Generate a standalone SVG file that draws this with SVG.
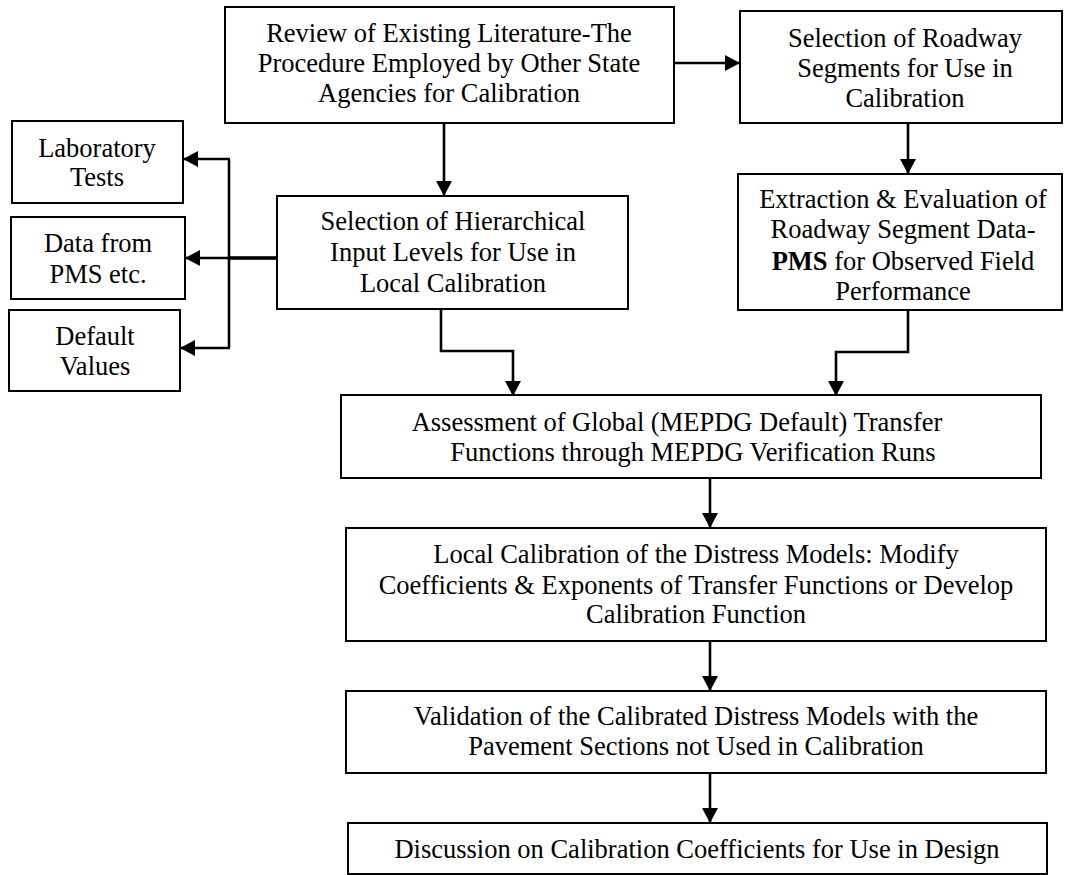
<svg xmlns="http://www.w3.org/2000/svg" width="1081" height="875" viewBox="0 0 1081 875">
<style>
.box{fill:#fff;stroke:#000;stroke-width:2}
.t{font-family:"Liberation Serif","Times New Roman",serif;font-size:26.5px;fill:#000;text-anchor:middle}
.c{fill:none;stroke:#000;stroke-width:2.6}
</style>
<defs>
<marker id="ah" viewBox="0 0 15 16" refX="15" refY="8" markerWidth="15" markerHeight="16" markerUnits="userSpaceOnUse" orient="auto">
<path d="M0,0 L15,8 L0,16 z" fill="#000"/>
</marker>
</defs>
<rect width="1081" height="875" fill="#fff"/>
<g id="connectors">
<path class="c" d="M674,63 H740" marker-end="url(#ah)"/>
<path class="c" d="M444,123 V196" marker-end="url(#ah)"/>
<path class="c" d="M908,123 V174" marker-end="url(#ah)"/>
<path class="c" d="M277,258 H185" marker-end="url(#ah)"/>
<path d="M229,258 H277" stroke="#000" stroke-width="3.6" fill="none"/>
<path class="c" d="M229,159 V348"/>
<path class="c" d="M230,159 H183" marker-end="url(#ah)"/>
<path class="c" d="M230,348 H180" marker-end="url(#ah)"/>
<path class="c" d="M441,309 V351 H513 V396" marker-end="url(#ah)"/>
<path class="c" d="M908,310 V352 H836 V396" marker-end="url(#ah)"/>
<path class="c" d="M710,478 V528" marker-end="url(#ah)"/>
<path class="c" d="M710,641 V691" marker-end="url(#ah)"/>
<path class="c" d="M710,773 V823" marker-end="url(#ah)"/>
</g>
<g id="n-review">
<rect class="box" x="225" y="7" width="449" height="116"/>
<text class="t" x="449" y="42">Review of Existing Literature-The</text>
<text class="t" x="449" y="72">Procedure Employed by Other State</text>
<text class="t" x="449" y="102">Agencies for Calibration</text>
</g>
<g id="n-roadway">
<rect class="box" x="740" y="11" width="322" height="112"/>
<text class="t" x="905" y="47">Selection of Roadway</text>
<text class="t" x="905" y="77">Segments for Use in</text>
<text class="t" x="905" y="107">Calibration</text>
</g>
<g id="n-lab">
<rect class="box" x="12" y="121" width="171" height="82"/>
<text class="t" x="97" y="157">Laboratory</text>
<text class="t" x="97" y="186">Tests</text>
</g>
<g id="n-data">
<rect class="box" x="11" y="217" width="174" height="82"/>
<text class="t" x="98" y="252">Data from</text>
<text class="t" x="98" y="283">PMS etc.</text>
</g>
<g id="n-default">
<rect class="box" x="9" y="310" width="171" height="81"/>
<text class="t" x="95" y="345">Default</text>
<text class="t" x="95" y="375">Values</text>
</g>
<g id="n-hier">
<rect class="box" x="277" y="196" width="351" height="113"/>
<text class="t" x="453" y="230">Selection of Hierarchical</text>
<text class="t" x="453" y="261">Input Levels for Use in</text>
<text class="t" x="453" y="292">Local Calibration</text>
</g>
<g id="n-extract">
<rect class="box" x="738" y="174" width="324" height="136"/>
<text class="t" x="903" y="208">Extraction &amp; Evaluation of</text>
<text class="t" x="903" y="238">Roadway Segment Data-</text>
<text class="t" x="903" y="270"><tspan font-weight="bold">PMS</tspan> for Observed Field</text>
<text class="t" x="903" y="300">Performance</text>
</g>
<g id="n-assess">
<rect class="box" x="341" y="395" width="700" height="83"/>
<text class="t" x="677" y="431">Assessment of Global (MEPDG Default) Transfer</text>
<text class="t" x="693" y="461">Functions through MEPDG Verification Runs</text>
</g>
<g id="n-local">
<rect class="box" x="346" y="528" width="700" height="113"/>
<text class="t" x="696" y="563">Local Calibration of the Distress Models: Modify</text>
<text class="t" x="696" y="594">Coefficients &amp; Exponents of Transfer Functions or Develop</text>
<text class="t" x="696" y="623">Calibration Function</text>
</g>
<g id="n-valid">
<rect class="box" x="346" y="691" width="700" height="82"/>
<text class="t" x="696" y="725">Validation of the Calibrated Distress Models with the</text>
<text class="t" x="696" y="755">Pavement Sections not Used in Calibration</text>
</g>
<g id="n-disc">
<rect class="box" x="348" y="823" width="699" height="51"/>
<text class="t" x="697" y="858">Discussion on Calibration Coefficients for Use in Design</text>
</g>
</svg>
